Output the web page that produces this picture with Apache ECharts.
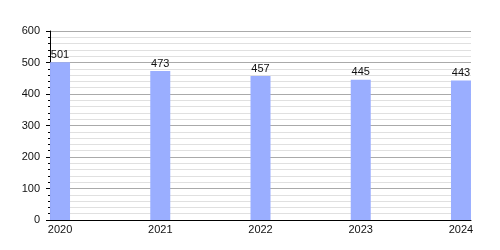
<!DOCTYPE html>
<html>
<head>
<meta charset="utf-8">
<script src="https://cdn.jsdelivr.net/npm/echarts@6/dist/echarts.min.js"></script>
<style>html,body{margin:0;padding:0;background:#fff;}#c{width:500px;height:250px;}</style>
</head>
<body>
<div id="c"></div>
<script>
const years = [2020, 2021, 2022, 2023, 2024];
const values = [501, 473, 457, 445, 443];
const yTicks = [0, 100, 200, 300, 400, 500, 600];

const chart = echarts.init(document.getElementById('c'), null, {renderer: 'canvas'});
const font = 'Liberation Sans, Arial, sans-serif';
chart.setOption({
  animation: false,
  backgroundColor: '#fff',
  grid: {left: 50, right: 29, top: 31, bottom: 30, containLabel: false},
  xAxis: {
    type: 'value',
    min: years[0] - 0.1,
    max: years[years.length - 1] + 0.1,
    axisLine: {show: true, onZero: false, lineStyle: {color: '#000', width: 1}},
    axisTick: {show: false},
    splitLine: {show: false},
    axisLabel: {
      customValues: years,
      color: '#111', fontFamily: font, fontSize: 11, margin: 4,
      formatter: v => String(v)
    }
  },
  yAxis: {
    type: 'value',
    min: yTicks[0],
    max: yTicks[yTicks.length - 1],
    interval: 100,
    axisLine: {show: true, lineStyle: {color: '#000', width: 1}},
    axisTick: {show: true, length: 4, lineStyle: {color: '#000'}},
    minorTick: {show: true, splitNumber: 5, length: 2, lineStyle: {color: '#000'}},
    splitLine: {show: true, lineStyle: {color: '#aaa', width: 1}},
    minorSplitLine: {show: true, lineStyle: {color: '#e0e0e0', width: 1}},
    axisLabel: {color: '#111', fontFamily: font, fontSize: 11, margin: 10}
  },
  series: [{
    type: 'bar',
    data: years.map((y, i) => [y, values[i]]),
    barWidth: 20,
    itemStyle: {color: '#9aaeff'},
    label: {show: true, position: 'top', distance: 2, color: '#111', fontFamily: font, fontSize: 11}
  }]
});
</script>
</body>
</html>
